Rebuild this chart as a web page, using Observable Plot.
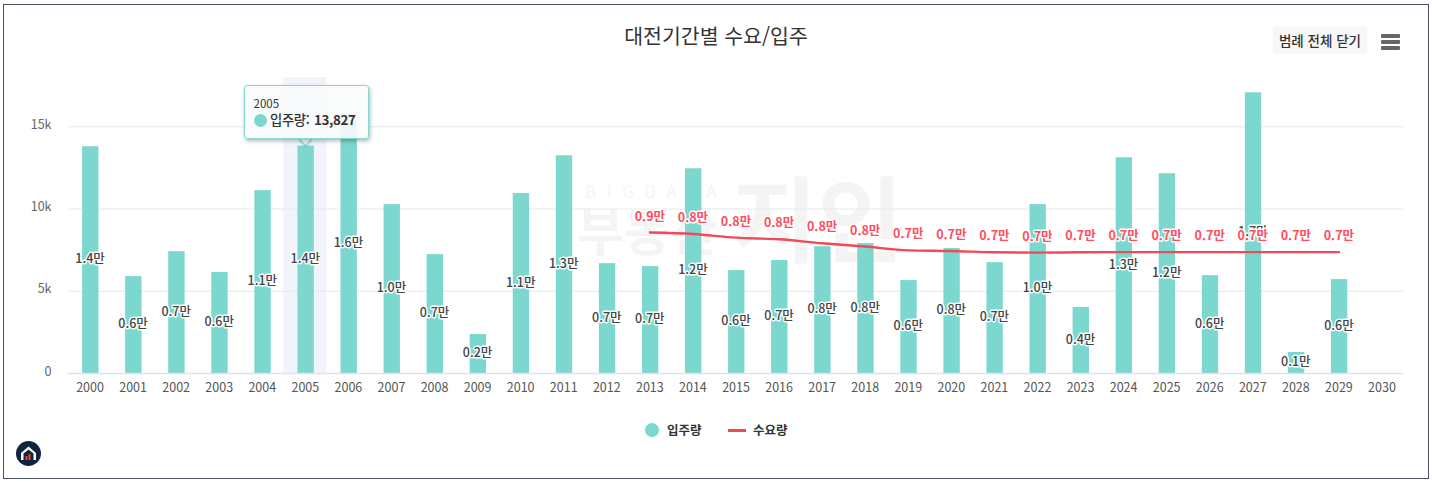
<!DOCTYPE html>
<html lang="ko">
<head>
<meta charset="utf-8">
<script src="https://cdn.jsdelivr.net/npm/d3@7"></script>
<script src="https://cdn.jsdelivr.net/npm/@observablehq/plot@0.6"></script>
<style>
html,body{margin:0;padding:0;background:#fff;width:1432px;height:482px;overflow:hidden;font-family:"Noto Sans CJK KR","Noto Sans",sans-serif;}
#frame{position:absolute;left:3px;top:4px;width:1424px;height:473px;border:1.5px solid #4b5263;box-sizing:content-box;}
#wm1,#wm2,#wm3{position:absolute;color:#f4f4f5;white-space:nowrap;line-height:1;}
#wm1{left:585px;top:182px;font-size:17px;letter-spacing:10.5px;}
#wm2{left:577px;top:204px;font-size:51px;font-weight:700;}
#wm3{left:732px;top:168px;font-size:93px;font-weight:700;}
#chart{position:absolute;left:0;top:0;}
#chart svg{background:transparent;display:block;}
#title{position:absolute;left:0;width:1432px;top:21px;text-align:center;font-size:20.5px;font-weight:400;color:#333;line-height:28px;}
#btn{position:absolute;left:1273px;top:27px;width:94px;height:27px;background:#f7f7f7;border-radius:2px;text-align:center;font-size:13.5px;font-weight:500;line-height:27px;color:#333;}
#menu{position:absolute;left:1381px;top:34px;width:19px;}
#menu i{display:block;height:3.8px;background:#666;margin-bottom:2.4px;border-radius:1px;}
#tip{position:absolute;left:244px;top:85px;width:125px;height:54px;box-sizing:border-box;background:rgba(250,251,251,.9);border:1.5px solid #82d9d0;border-radius:3px;box-shadow:1px 2px 4px rgba(0,0,0,.3);color:#333;}
#tip .h{position:absolute;left:8.5px;top:9px;font-size:11.5px;line-height:16px;}
#tip .r{position:absolute;left:9px;top:24px;font-size:13.3px;line-height:20px;white-space:nowrap;font-weight:500;letter-spacing:-.3px;}
#tip .r b{font-weight:700;margin-left:1px;}
#tip .d{display:inline-block;width:13px;height:13px;border-radius:50%;background:#7cd7ce;vertical-align:-1.5px;margin-right:3px;}
#caret{position:absolute;left:301px;top:135px;width:8px;height:8px;background:#f9fafa;border-right:1.5px solid #82d9d0;border-bottom:1.5px solid #82d9d0;transform:rotate(45deg);box-shadow:1px 1px 2px rgba(0,0,0,.2);}
#legend{position:absolute;top:420px;left:0;width:1432px;height:20px;font-size:12.5px;font-weight:700;color:#333;line-height:20px;}
#legend span{position:absolute;white-space:nowrap;}
#ld{position:absolute;left:645px;top:3px;width:14px;height:14px;border-radius:50%;background:#7cd7ce;}
#ll{position:absolute;left:728px;top:9px;width:18px;height:2.5px;background:#ef4a57;}
#logo{position:absolute;left:16px;top:441px;}
</style>
</head>
<body>
<div id="frame"></div>
<div id="wm1">BIGDATA</div>
<div id="wm2">부동산</div>
<div id="wm3">지인</div>
<div id="chart"></div>
<div id="title">대전기간별 수요/입주</div>
<div id="btn">범례 전체 닫기</div>
<div id="menu"><i></i><i></i><i></i></div>
<div id="caret"></div>
<div id="tip">
  <div class="h">2005</div>
  <div class="r"><span class="d"></span>입주량: <b>13,827</b></div>
</div>
<div id="legend">
  <div id="ld"></div><span style="left:667px">입주량</span>
  <div id="ll"></div><span style="left:753px">수요량</span>
</div>
<svg id="logo" width="25" height="25" viewBox="0 0 25 25">
  <circle cx="12.5" cy="12.5" r="12.5" fill="#10243f"/>
  <path d="M5 12 L12.5 5.5 L20 12 V19 H17.5 V12.5 L12.5 8.5 L7.5 12.5 V19 H5 Z" fill="#fff"/>
  <rect x="9.5" y="15" width="2" height="4" fill="#e0492f"/>
  <rect x="12.5" y="13" width="2" height="6" fill="#e0492f"/>
</svg>
<script>
const years = ["2000","2001","2002","2003","2004","2005","2006","2007","2008","2009","2010","2011","2012","2013","2014","2015","2016","2017","2018","2019","2020","2021","2022","2023","2024","2025","2026","2027","2028","2029","2030"];
const supply = [13790,5890,7410,6140,11120,13827,15800,10270,7230,2370,10940,13240,6680,6500,12450,6260,6870,7710,7900,5650,7600,6740,10270,4010,13120,12150,5950,17070,1280,5710,null];
const demand = [null,null,null,null,null,null,null,null,null,null,null,null,null,8570,8480,8260,8160,7920,7720,7490,7450,7370,7350,7370,7380,7380,7380,7380,7380,7380,null];
const yTicks = [0,5000,10000,15000];
const highlightYear = ["2005"];

const man = v => (v/10000).toFixed(1)+"만";
const bars = years.map((year,i)=>({year,value:supply[i]})).filter(d=>d.value!=null);
const line = years.map((year,i)=>({year,value:demand[i]})).filter(d=>d.value!=null);
const FONT = '"Noto Sans CJK KR","Noto Sans",sans-serif';

const plot = Plot.plot({
  width:1432, height:482,
  marginLeft:68, marginRight:29, marginTop:77, marginBottom:109,
  style:{fontFamily:FONT, background:"transparent"},
  x:{type:"band", domain:years, padding:0, round:false, label:null},
  y:{domain:[0,18000], label:null},
  marks:[
    Plot.barY(highlightYear,{x:d=>d, y1:()=>0, y2:()=>18000, fill:"#eef3fa", fillOpacity:.8}),
    Plot.gridY(yTicks,{stroke:"#e6e8ec", strokeOpacity:1, strokeWidth:1}),
    Plot.barY(bars,{x:"year", y:"value", fill:"#7cd7ce", insetLeft:14.1, insetRight:12.6}),
    Plot.ruleY([0],{stroke:"#dbe2f3", strokeWidth:1.5}),
    Plot.axisX({tickSize:0, tickPadding:10, fontSize:12.5, color:"#555", label:null, tickFormat:d=>d}),
    Plot.axisY({ticks:yTicks, tickSize:0, tickPadding:17, dy:-2, fontSize:12.5, color:"#666", label:null, tickFormat:d=>d===0?"0":(d/1000)+"k"}),
    Plot.text(bars,{x:"year", y:d=>d.value/2, text:d=>man(d.value), dy:-1, fill:"#444", fontSize:12.5, fontWeight:500, stroke:"#fff", strokeWidth:3, strokeOpacity:.95}),
    Plot.line(line,{x:"year", y:"value", stroke:"#ef4a57", strokeWidth:2.4, curve:"monotone-x"}),
    Plot.text(line,{x:"year", y:"value", text:d=>man(d.value), dy:-16, fill:"#ff4d5e", fontSize:12.5, fontWeight:700, stroke:"#fff", strokeWidth:3, strokeOpacity:.95})
  ]
});
document.getElementById("chart").append(plot);
</script>
</body>
</html>
